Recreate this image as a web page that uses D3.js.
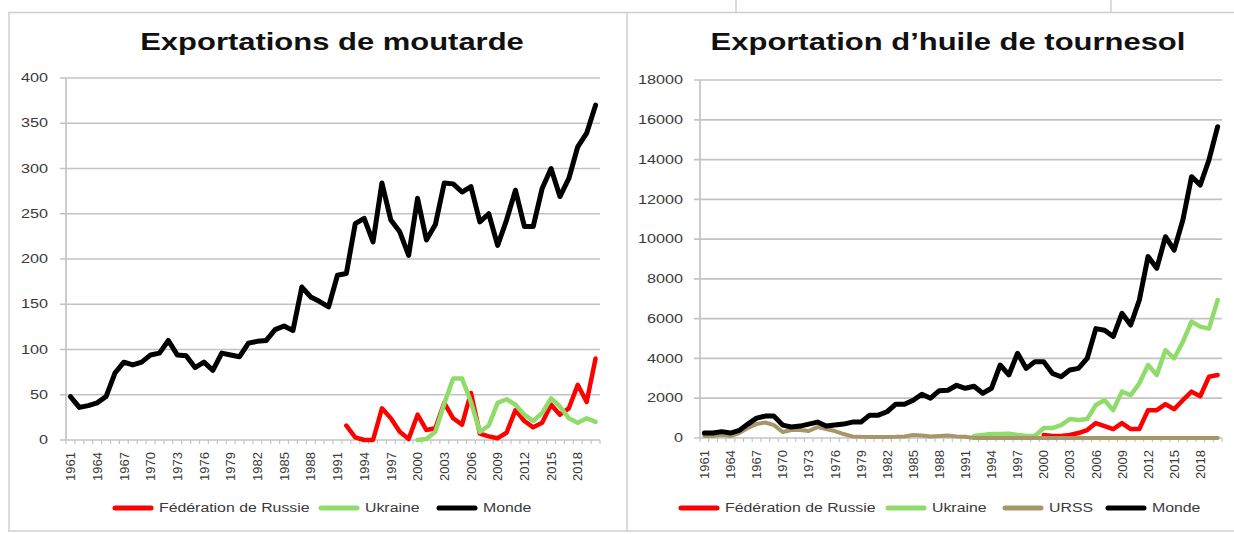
<!DOCTYPE html>
<html><head><meta charset="utf-8">
<script src="https://cdn.jsdelivr.net/npm/d3@7"></script>
<style>html,body{margin:0;padding:0;background:#fff;} svg{display:block}</style>
</head><body>
<svg id="c" width="1234" height="534"></svg>
<script>
// ---------- DATA ----------
const years = d3.range(1961, 2021);
const xTickLabels = ["1961","1964","1967","1970","1973","1976","1979","1982","1985","1988","1991","1994","1997","2000","2003","2006","2009","2012","2015","2018"];
const mustardYTicks = [0,50,100,150,200,250,300,350,400];
const oilYTicks = [0,2000,4000,6000,8000,10000,12000,14000,16000,18000];

// Exportations de moutarde
const mustardMonde = [48,36,38,41,48,74,86,83,86,94,96,110,94,93,80,86,77,96,94,92,107,109,110,122,126,121,169,158,153,147,182,184,239,245,219,284,243,230,204,267,221,238,284,283,274,280,241,250,215,243,276,236,236,278,300,269,289,324,339,370];
const mustardRussieStart = 1992;
const mustardRussie = [16,3,0,0,35,24,9,1,28,11,13,41,24,17,52,7,4,2,8,33,21,14,19,39,28,35,61,42,90];
const mustardUkraineStart = 2000;
const mustardUkraine = [0,1,9,40,68,68,42,9,16,41,45,39,28,21,30,46,37,24,19,24,20];

// Exportation d'huile de tournesol
const oilMonde = [250,250,320,250,380,700,1000,1100,1100,650,550,600,700,800,600,650,700,800,800,1150,1150,1320,1700,1700,1900,2200,2000,2380,2400,2650,2500,2600,2250,2500,3670,3170,4260,3500,3840,3840,3250,3080,3420,3500,4000,5500,5420,5100,6270,5680,6940,9120,8530,10120,9450,10960,13140,12720,13980,15650];
const oilRussieStart = 2000;
const oilRussie = [150,100,100,150,250,400,750,600,450,750,450,450,1400,1400,1700,1450,1900,2330,2100,3080,3170];
const oilUkraineStart = 1992;
const oilUkraine = [100,150,200,200,220,150,100,100,500,500,650,950,900,950,1660,1900,1400,2330,2150,2750,3670,3170,4420,4000,4840,5850,5600,5500,6940];
const oilURSSStart = 1961;
const oilURSS = [100,100,150,100,250,500,700,780,650,300,400,400,350,550,450,350,200,80,60,50,50,50,60,80,150,130,80,100,120,80,60,0,0,0,0,0,0,0,0,0,0,0,0,0,0,0,0,0,0,0,0,0,0,0,0,0,0,0,0,0];

// ---------- STYLE ----------
const COL = {russie:"#ff0000", ukraine:"#8fdc6a", urss:"#a69669", monde:"#000000"};
const gridCol = "#c3c3c3";
const textCol = "#3a3a3a";
const FONT = "'Liberation Sans', Arial, sans-serif";

function toSeries(start, vals){
  return vals.map((v,i)=>({year:start+i, value:v}));
}

const svg = d3.select("#c");

// frame
const frame = svg.append("g").attr("stroke","#cfcfcf").attr("stroke-width",1.5).attr("fill","none");
frame.append("line").attr("x1",8).attr("x2",1234).attr("y1",12.5).attr("y2",12.5);
frame.append("line").attr("x1",9).attr("x2",9).attr("y1",12).attr("y2",531);
frame.append("line").attr("x1",627).attr("x2",627).attr("y1",12).attr("y2",531);
frame.append("line").attr("x1",8).attr("x2",1234).attr("y1",531).attr("y2",531);
frame.append("line").attr("x1",736).attr("x2",736).attr("y1",0).attr("y2",12);
frame.append("line").attr("x1",1111).attr("x2",1111).attr("y1",0).attr("y2",12);

function stretch(sel, k){
  sel.each(function(){
    const l = this.getComputedTextLength();
    d3.select(this).attr("textLength", l*k).attr("lengthAdjust","spacingAndGlyphs");
  });
}

function drawChart(cfg){
  const g = svg.append("g");
  const x = d3.scaleBand().domain(years).range([cfg.x0, cfg.x1]);
  const y = d3.scaleLinear().domain([0, cfg.yMax]).range([cfg.y0, cfg.yTop]);
  const cx = yr => x(yr) + x.bandwidth()/2;

  // gridlines
  g.append("g").selectAll("line").data(cfg.yTicks.filter(t=>t>0)).join("line")
    .attr("x1", cfg.x0-6).attr("x2", cfg.x1)
    .attr("y1", d=>y(d)).attr("y2", d=>y(d))
    .attr("stroke", gridCol).attr("stroke-width", 1.7);

  // y axis line + x axis line
  g.append("line").attr("x1",cfg.x0).attr("x2",cfg.x0).attr("y1",cfg.yTop).attr("y2",cfg.y0)
    .attr("stroke",gridCol).attr("stroke-width",1.7);
  g.append("line").attr("x1",cfg.x0-6).attr("x2",cfg.x1).attr("y1",cfg.y0).attr("y2",cfg.y0)
    .attr("stroke",gridCol).attr("stroke-width",1.7);

  // x ticks at category boundaries
  const bounds = years.map(yr=>x(yr)).concat([cfg.x1]);
  g.append("g").selectAll("line").data(bounds).join("line")
    .attr("x1",d=>d).attr("x2",d=>d).attr("y1",cfg.y0).attr("y2",cfg.y0+4)
    .attr("stroke",gridCol).attr("stroke-width",1.2);

  // y tick labels
  const yl = g.append("g").selectAll("text").data(cfg.yTicks).join("text")
    .attr("x", cfg.labelX).attr("y", d=>y(d)).attr("dy","0.35em")
    .attr("text-anchor","end").attr("font-family",FONT).attr("font-size",12)
    .attr("fill",textCol).text(d=>d);
  stretch(yl, 1.35);

  // x tick labels
  g.append("g").selectAll("text").data(xTickLabels).join("text")
    .attr("transform", d=>`translate(${cx(+d)},${cfg.y0+12}) rotate(-90)`)
    .attr("dy","0.36em").attr("text-anchor","end")
    .attr("font-family",FONT).attr("font-size",13).attr("fill",textCol).text(d=>d);

  // lines
  const line = d3.line().defined(d=>d.value!=null).x(d=>cx(d.year)).y(d=>y(d.value));
  cfg.series.forEach(s=>{
    g.append("path").datum(s.data).attr("d",line)
      .attr("fill","none").attr("stroke",s.color).attr("stroke-width",s.width)
      .attr("stroke-linejoin","round").attr("stroke-linecap","round");
  });

  // title
  const t = g.append("text").attr("x",cfg.titleX).attr("y",50).attr("text-anchor","middle")
    .attr("font-family",FONT).attr("font-weight","bold").attr("font-size",24)
    .attr("fill","#111").text(cfg.title);
  stretch(t, 1.29);

  // legend
  cfg.legend.forEach(it=>{
    g.append("line").attr("x1",it.lx).attr("x2",it.lx+36).attr("y1",508).attr("y2",508)
      .attr("stroke",it.color).attr("stroke-width",5).attr("stroke-linecap","round");
    const tt = g.append("text").attr("x",it.lx+44).attr("y",508).attr("dy","0.36em")
      .attr("font-family",FONT).attr("font-size",12).attr("fill",textCol).text(it.name);
    stretch(tt, 1.32);
  });
}

drawChart({
  x0:66, x1:600, y0:440, yTop:78, yMax:400, yTicks:mustardYTicks, labelX:48,
  title:"Exportations de moutarde", titleX:332,
  series:[
    {data:toSeries(mustardRussieStart, mustardRussie), color:COL.russie, width:4.5},
    {data:toSeries(mustardUkraineStart, mustardUkraine), color:COL.ukraine, width:4.5},
    {data:toSeries(1961, mustardMonde), color:COL.monde, width:5}
  ],
  legend:[
    {name:"Fédération de Russie", color:COL.russie, lx:115},
    {name:"Ukraine", color:COL.ukraine, lx:321},
    {name:"Monde", color:COL.monde, lx:439}
  ]
});

drawChart({
  x0:700, x1:1222, y0:438, yTop:80, yMax:18000, yTicks:oilYTicks, labelX:683,
  title:"Exportation d\u2019huile de tournesol", titleX:948,
  series:[
    {data:toSeries(oilRussieStart, oilRussie), color:COL.russie, width:4.5},
    {data:toSeries(oilUkraineStart, oilUkraine), color:COL.ukraine, width:4.5},
    {data:toSeries(oilURSSStart, oilURSS), color:COL.urss, width:4},
    {data:toSeries(1961, oilMonde), color:COL.monde, width:5}
  ],
  legend:[
    {name:"Fédération de Russie", color:COL.russie, lx:681},
    {name:"Ukraine", color:COL.ukraine, lx:888},
    {name:"URSS", color:COL.urss, lx:1005},
    {name:"Monde", color:COL.monde, lx:1108}
  ]
});
</script>
</body></html>
